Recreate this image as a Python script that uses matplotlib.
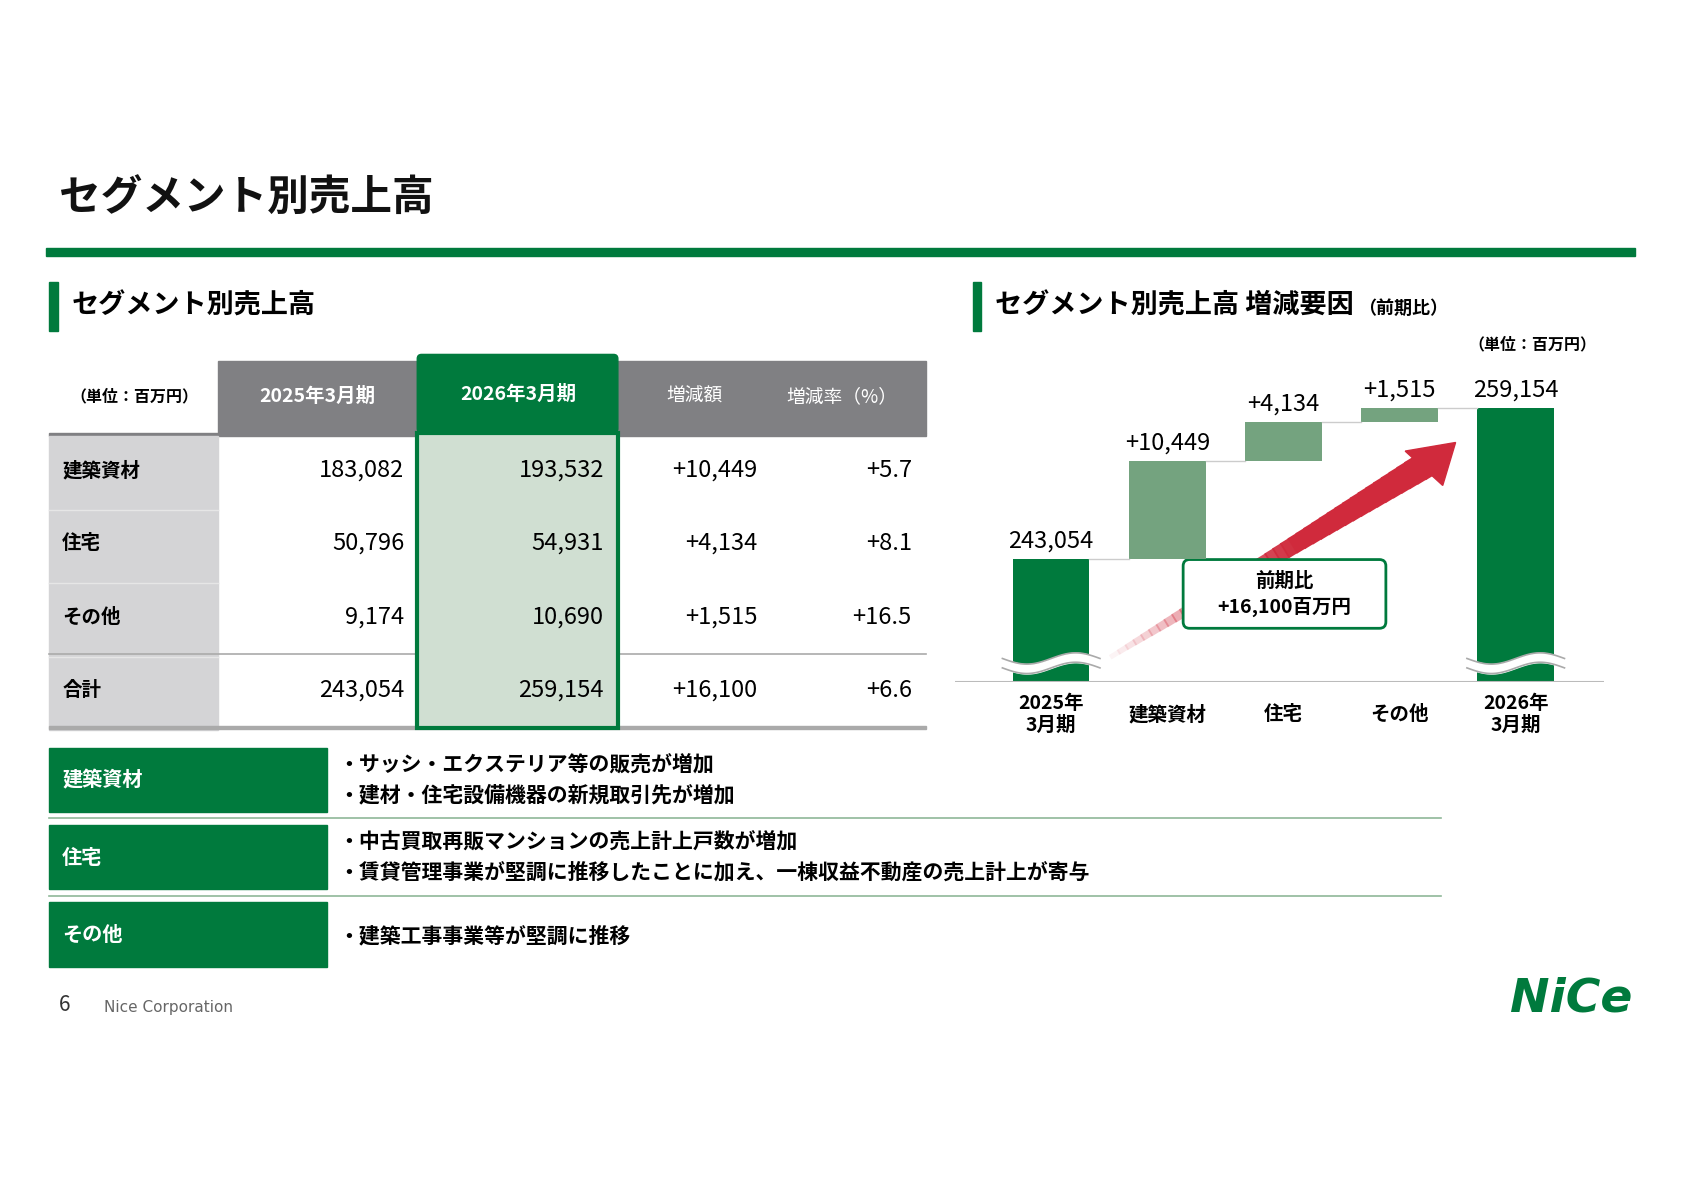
import matplotlib
matplotlib.use("Agg")
import matplotlib.pyplot as plt
from matplotlib.patches import Rectangle, FancyBboxPatch
import numpy as np

plt.rcParams['font.family'] = ['Noto Sans CJK JP', 'DejaVu Sans']

GREEN = '#007a3d'
LGREEN = '#74a37f'
GRAY = '#808083'

# ---------------- data ----------------
segments = ['建築資材', '住宅', 'その他', '合計']
sales_2025 = [183082, 50796, 9174, 243054]
sales_2026 = [193532, 54931, 10690, 259154]
change_amt = ['+10,449', '+4,134', '+1,515', '+16,100']
change_pct = ['+5.7', '+8.1', '+16.5', '+6.6']
col_headers = ['2025年3月期', '2026年3月期', '増減額', '増減率（%）']

wf_labels = ['2025年\n3月期', '建築資材', '住宅', 'その他', '2026年\n3月期']
wf_start = 243054
wf_deltas = [10449, 4134, 1515]
wf_end = 259154
wf_text = ['243,054', '+10,449', '+4,134', '+1,515', '259,154']

notes = {
    '建築資材': ['・サッシ・エクステリア等の販売が増加', '・建材・住宅設備機器の新規取引先が増加'],
    '住宅': ['・中古買取再販マンションの売上計上戸数が増加', '・賃貸管理事業が堅調に推移したことに加え、一棟収益不動産の売上計上が寄与'],
    'その他': ['・建築工事事業等が堅調に推移'],
}

W, H = 1569, 1108
fig = plt.figure(figsize=(16.83, 11.90), dpi=100)
ax = fig.add_axes([0, 0, 1, 1])
ax.set_xlim(0, W); ax.set_ylim(H, 0); ax.axis('off')

# title
ax.text(55, 185, 'セグメント別売上高', fontsize=30, fontweight='bold', va='center', color='#111')
ax.add_patch(Rectangle((43, 231), 1481, 7, color=GREEN))

# section headers
ax.add_patch(Rectangle((46, 263), 8, 45, color=GREEN))
ax.text(67, 285, 'セグメント別売上高', fontsize=19.5, fontweight='bold', va='center')
ax.add_patch(Rectangle((907, 263), 8, 45, color=GREEN))
ax.text(928, 285, 'セグメント別売上高 増減要因', fontsize=19.5, fontweight='bold', va='center')
ax.text(1266, 287, '（前期比）', fontsize=13, fontweight='bold', va='center')
ax.text(1488, 321, '（単位：百万円）', fontsize=11.5, fontweight='bold', ha='right', va='center')

# ---------------- table ----------------
ax.add_patch(Rectangle((203, 336), 660, 67, color=GRAY))
ax.text(125, 369, '（単位：百万円）', fontsize=11.5, fontweight='bold', ha='center', va='center')
col_x = [296, 483, 647, 785]
for i, h in enumerate(col_headers):
    ax.text(col_x[i], 369 if i != 1 else 367, h, fontsize=14 if i < 2 else 13.5, color='white',
            ha='center', va='center', fontweight='bold' if i < 2 else 'normal', zorder=5)
ax.add_patch(Rectangle((46, 403), 817, 3, color=GRAY))
row_y = [438, 506, 575, 643]
row_h = 68.5
for r, seg in enumerate(segments):
    y0 = 406 + r * row_h
    ax.add_patch(Rectangle((46, y0), 157, row_h, color='#d4d4d6', zorder=1))
    if r < 3:
        ax.plot([46, 203], [y0 + row_h, y0 + row_h], color='#e6e6e6', lw=1, zorder=2)
    ax.text(58, row_y[r], seg, fontsize=14, fontweight='bold', va='center')
    ax.text(377, row_y[r], f'{sales_2025[r]:,}', fontsize=17, ha='right', va='center')
    ax.text(563, row_y[r], f'{sales_2026[r]:,}', fontsize=17, ha='right', va='center', zorder=5)
    ax.text(706, row_y[r], change_amt[r], fontsize=17, ha='right', va='center')
    ax.text(850, row_y[r], change_pct[r], fontsize=17, ha='right', va='center')
ax.plot([46, 863], [609, 609], color='#aaaaaa', lw=1.2)
ax.add_patch(Rectangle((46, 676), 817, 3, color='#aaaaaa'))
# highlighted column
ax.add_patch(FancyBboxPatch((389, 330), 187, 73, boxstyle='round,pad=0,rounding_size=4', color=GREEN, zorder=3))
ax.add_patch(Rectangle((389, 403), 187, 275, facecolor='#d0dfd2', edgecolor=GREEN, lw=3, zorder=3))

# ---------------- notes ----------------
note_y = [696, 768, 840]
for k, seg in enumerate(['建築資材', '住宅', 'その他']):
    y0 = note_y[k]
    ax.add_patch(Rectangle((46, y0), 259, 60, color=GREEN))
    ax.text(58, y0 + 30, seg, fontsize=14.5, fontweight='bold', color='white', va='center')
    lines = notes[seg]
    ys = [y0 + 16, y0 + 44] if len(lines) == 2 else [y0 + 31]
    for ln, yy in zip(lines, ys):
        ax.text(315, yy, ln, fontsize=15, fontweight='bold', va='center')
    if k < 2:
        ax.plot([46, 1343], [y0 + 66, y0 + 66], color='#8fb898', lw=1.2)

# footer
ax.text(55, 936, '6', fontsize=15, va='center', color='#333')
ax.text(97, 938, 'Nice Corporation', fontsize=11, va='center', color='#666', family='DejaVu Sans')
ax.text(1522, 930, 'NiCe', fontsize=34, fontweight='bold', fontstyle='italic', color=GREEN,
        ha='right', va='center', family='DejaVu Sans')

# ---------------- waterfall ----------------
base = 230000
scale = 0.00876  # px per unit
ax_top = 330
ymax = base + (635 - ax_top) / scale
x_left, x_right = 890, 1495
wax = fig.add_axes([x_left / W, 1 - 635 / H, (x_right - x_left) / W, (635 - ax_top) / H])
wax.set_xlim(-0.831, 4.757)
wax.set_ylim(base, ymax)
wax.axis('off')
wax.patch.set_alpha(0)

bw = 0.66
levels = [wf_start]
for d in wf_deltas:
    levels.append(levels[-1] + d)
wax.bar(0, wf_start - base, bottom=base, width=bw, color=GREEN)
for i, d in enumerate(wf_deltas):
    wax.bar(i + 1, d, bottom=levels[i], width=bw, color=LGREEN)
wax.bar(4, wf_end - base, bottom=base, width=bw, color=GREEN)
for i in range(4):
    wax.plot([i + bw / 2, i + 1 - bw / 2], [levels[i]] * 2, color='#cccccc', lw=1)
tops = [wf_start] + levels[1:] + [wf_end]
for i, t in enumerate(wf_text):
    wax.text(i, tops[i] + 700, t, ha='center', va='bottom', fontsize=17)
wax.axhline(base, color='#bbbbbb', lw=1.5)
# break marks
for xc in [0, 4]:
    xs = np.linspace(xc - 0.42, xc + 0.42, 50)
    ys = base + 2000 + 600 * np.sin((xs - xc) * np.pi / 0.42)
    wax.fill_between(xs, ys - 500, ys + 500, color='white', zorder=4)
    wax.plot(xs, ys - 500, color='#aaaaaa', lw=1.2, zorder=5)
    wax.plot(xs, ys + 500, color='#aaaaaa', lw=1.2, zorder=5)

for i, lab in enumerate(wf_labels):
    ax.text(x_left + (i + 0.831) * 108.3, 665, lab, ha='center', va='center', fontsize=14,
            fontweight='bold', linespacing=1.2)

# gradient arrow
p0 = np.array([1035, 612]); p1 = np.array([1330, 432])
n = 40
for k in range(n):
    a = p0 + (p1 - p0) * k / n
    b = p0 + (p1 - p0) * (k + 1.2) / n
    w = 4 + 18 * k / n
    ax.plot([a[0], b[0]], [a[1], b[1]], color='#d02a3c', alpha=min(1, 0.05 + k / (n * 0.6)),
            lw=w * 0.9, solid_capstyle='butt', zorder=3)
ax.add_patch(plt.Polygon([[1357, 412], [1310, 420], [1345, 452]], color='#d02a3c', zorder=3))

ax.add_patch(FancyBboxPatch((1103, 521), 189, 64, boxstyle='round,pad=0,rounding_size=6',
                            facecolor='white', edgecolor=GREEN, lw=2, zorder=6))
ax.text(1197, 541, '前期比', ha='center', va='center', fontsize=14, fontweight='bold', zorder=7)
ax.text(1197, 565, '+16,100百万円', ha='center', va='center', fontsize=14, fontweight='bold', zorder=7)

fig.savefig('out.png', dpi=100)
